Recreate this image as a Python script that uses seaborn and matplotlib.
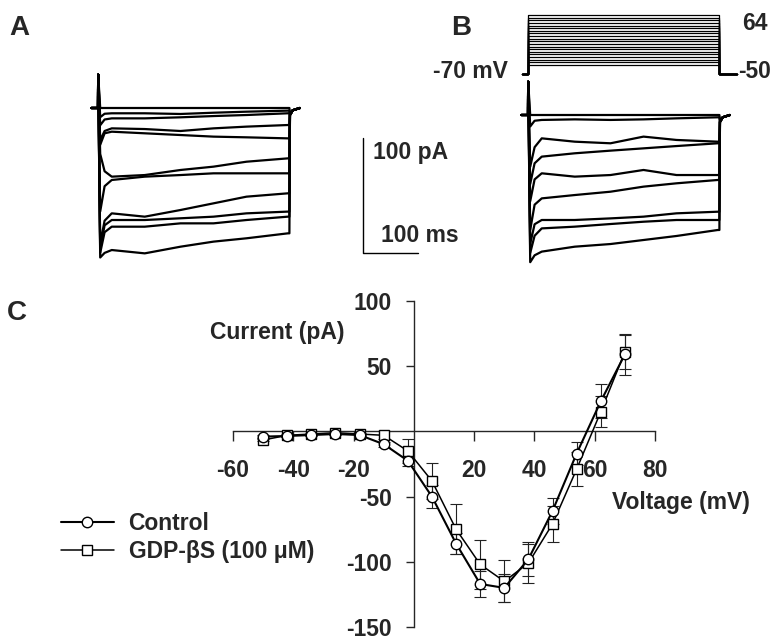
import matplotlib

matplotlib.use("Agg")
import matplotlib.pyplot as plt
import pandas as pd
import seaborn as sns

W, H = 775, 640

# panel C: I-V relation
VOLTAGE_MV = [-50, -42, -34, -26, -18, -10, -2, 6, 14, 22, 30, 38, 46, 54, 62, 70]
CONTROL_PA = [-4, -3.5, -2.8, -2, -2.8, -9.8, -22.5, -50, -86, -117, -120, -98, -61, -17, 23, 59]
CONTROL_SEM = [1, 1, 1, 1, 1, 2, 4, 9, 8, 10, 11, 13, 10, 9, 13, 16]
GDP_PA = [-6.6, -3, -2, -1, -2, -3, -15, -38, -75, -102, -115, -101, -71, -29, 15, 61]
GDP_SEM = [1, 1, 1, 1, 1, 3, 9, 14, 19, 19, 16, 15, 14, 13, 12, 13]
X_TICKS = [-60, -40, -20, 20, 40, 60, 80]
Y_TICKS = [-150, -100, -50, 50, 100]

# panel B protocol steps (mV)
HOLD_MV = -70
STEP_MV = [-50, -44, -38, -32, -26, -20, -14, -8, -2, 4,
           10, 16, 22, 28, 34, 40, 46, 52, 58, 64]

# current traces (pA), read at these times after pulse onset (ms)
READ_MS = [25, 85, 150, 210, 270, 345]
SPIKE_PA = 29
TAIL_PA = -6

A_LEVELS = [
    [0, 0, 0, 0, 0, 0],
    [-4.6, -4.6, -5.2, -4.1, -3.2, -2.3],
    [-9.0, -9.0, -8.1, -7.0, -6.1, -4.6],
    [-17.7, -18.3, -20.0, -17.7, -16.2, -14.8],
    [-20.6, -22.0, -23.5, -24.9, -25.5, -26.4],
    [-59.7, -58.3, -53.9, -51.0, -46.7, -43.8],
    [-62.6, -59.7, -58.3, -56.8, -56.8, -56.8],
    [-91.6, -94.5, -88.7, -82.9, -77.1, -74.2],
    [-97.4, -97.4, -95.9, -94.5, -91.6, -90.1],
    [-103.2, -103.2, -100.3, -100.3, -97.4, -94.5],
    [-123.5, -126.4, -120.6, -116.2, -113.3, -109.0],
]
A_EARLY = [0, -8, -15, -28, -32, -40, -90, -118, -122, -126, -130]
A_SETTLE = [0, -5, -10, -20, -22, -55, -68, -98, -102, -108, -126]

B_LEVELS = [
    [0, 0, 0, 0, 0, 0],
    [-4.3, -3.8, -4.3, -3.8, -2.9, -2.0],
    [-20.3, -23.2, -24.6, -18.8, -21.7, -23.2],
    [-36.2, -33.3, -31.0, -29.0, -27.0, -24.6],
    [-50.7, -53.6, -52.2, -47.8, -52.2, -52.2],
    [-72.5, -69.6, -66.7, -62.3, -59.4, -56.5],
    [-91.3, -91.3, -89.9, -88.4, -85.5, -84.1],
    [-98.6, -97.1, -94.8, -92.8, -91.3, -91.3],
    [-118.8, -114.5, -112.2, -108.7, -105.2, -100.0],
]
B_EARLY = [0, -10, -45, -60, -75, -100, -112, -120, -128]
B_SETTLE = [0, -5, -28, -42, -56, -78, -95, -105, -122]

sns.set_style("ticks")
plt.rcParams["font.family"] = ["Liberation Sans", "DejaVu Sans"]
plt.rcParams["font.weight"] = "bold"
plt.rcParams["axes.unicode_minus"] = False
FS = 16.5


def fx(px):
    return px / W


def fy(py):
    return 1 - py / H


def px_axes(fig, x0, y0, x1, y1):
    return fig.add_axes([x0 / W, 1 - y1 / H, (x1 - x0) / W, (y1 - y0) / H])


def trace_table(levels, early, settle):
    rows = []
    for k, (lv, e4, e12) in enumerate(zip(levels, early, settle)):
        t = [-12, 0, 0.3, 4, 12] + READ_MS + [348, 349, 354, 367]
        i = [0, 0, SPIKE_PA, e4, e12] + lv + [lv[-1], TAIL_PA, -2, 0]
        rows += [{"trace": k, "t": a, "pA": b} for a, b in zip(t, i)]
    return pd.DataFrame(rows)


def protocol_table():
    rows = []
    for k, v in enumerate(STEP_MV):
        t = [-11, 0, 0, 347, 347, 380]
        mv = [HOLD_MV, HOLD_MV, v, v, HOLD_MV, HOLD_MV]
        rows += [{"step": k, "t": a, "mV": b} for a, b in zip(t, mv)]
    return pd.DataFrame(rows)


fig = plt.figure(figsize=(W / 100, H / 100), dpi=100)

# ---- panel A traces (0.55 px/ms, 1.15 px/pA)
ax_a = px_axes(fig, 80, 55, 470, 265)
sns.lineplot(data=trace_table(A_LEVELS, A_EARLY, A_SETTLE), x="t", y="pA",
             units="trace", estimator=None, sort=False, color="black",
             lw=1.6, ax=ax_a)
ax_a.set_xlim((80 - 98) / 0.55, (470 - 98) / 0.55)
ax_a.set_ylim((108 - 265) / 1.15, (108 - 55) / 1.15)
# scale bars: 100 ms x 100 pA
bar_t, bar_i = (363 - 98) / 0.55, (108 - 253) / 1.15
ax_a.plot([bar_t, bar_t, bar_t + 100], [bar_i + 100, bar_i, bar_i],
          color="black", lw=1.0)
ax_a.axis("off")

# ---- panel B traces
ax_b = px_axes(fig, 480, 55, 775, 265)
sns.lineplot(data=trace_table(B_LEVELS, B_EARLY, B_SETTLE), x="t", y="pA",
             units="trace", estimator=None, sort=False, color="black",
             lw=1.6, ax=ax_b)
ax_b.set_xlim((480 - 528) / 0.55, (775 - 528) / 0.55)
ax_b.set_ylim((115 - 265) / 1.15, (115 - 55) / 1.15)
ax_b.axis("off")

# ---- panel B voltage protocol
ax_p = px_axes(fig, 480, 0, 775, 90)
sns.lineplot(data=protocol_table(), x="t", y="mV", units="step",
             estimator=None, sort=False, color="black", lw=0.9, ax=ax_p)
ax_p.set_xlim((480 - 528) / 0.55, (775 - 528) / 0.55)
ax_p.set_ylim(-50 - 25 / 0.4386, 64 + 15 / 0.4386)
ax_p.axis("off")
for ax in (ax_a, ax_b, ax_p):
    ax.patch.set_visible(False)

# ---- panel C: I-V curve
ax_c = px_axes(fig, 233, 301, 655, 627)
ax_c.patch.set_visible(False)
ax_c.errorbar(VOLTAGE_MV, CONTROL_PA, yerr=CONTROL_SEM, fmt="none",
              ecolor="#222222", elinewidth=0.8, capsize=4, capthick=0.8,
              zorder=2, clip_on=False)
ax_c.errorbar(VOLTAGE_MV, GDP_PA, yerr=GDP_SEM, fmt="none",
              ecolor="#222222", elinewidth=0.8, capsize=4, capthick=0.8,
              zorder=2, clip_on=False)
sns.lineplot(x=VOLTAGE_MV, y=CONTROL_PA, ax=ax_c, color="black", lw=1.5,
             marker="o", ms=7.5, mfc="white", mec="black", mew=1.0,
             zorder=4, clip_on=False)
sns.lineplot(x=VOLTAGE_MV, y=GDP_PA, ax=ax_c, color="black", lw=1.1,
             marker="s", ms=6.8, mfc="white", mec="black", mew=1.0,
             zorder=3, clip_on=False)
ax_c.set_xlim(-60, 80)
ax_c.set_ylim(-150, 100)
for side in ("top", "right"):
    ax_c.spines[side].set_visible(False)
ax_c.spines["left"].set_position(("data", 0))
ax_c.spines["bottom"].set_position(("data", 0))
for side in ("left", "bottom"):
    ax_c.spines[side].set_linewidth(1.0)
ax_c.set_xticks(X_TICKS)
ax_c.set_yticks(Y_TICKS)
ax_c.tick_params(axis="x", direction="out", length=7, width=1.0,
                 labelsize=FS, pad=13)
ax_c.tick_params(axis="y", direction="out", length=6, width=1.0,
                 labelsize=FS, pad=10)
ax_c.set_xlabel("")
ax_c.set_ylabel("")

lines = ax_c.get_lines()
handles = [ln for ln in lines if ln.get_marker() in ("o", "s")]
ax_c.legend(handles, ["Control", "GDP-βS (100 μM)"], loc="upper left",
            bbox_to_anchor=(fx(61), fy(512)), bbox_transform=fig.transFigure,
            frameon=False, borderpad=0, borderaxespad=0, handlelength=2.3,
            handletextpad=0.65, labelspacing=0.2, numpoints=1,
            prop={"size": FS, "weight": "bold"})

# ---- labels
fig.text(fx(210), fy(332), "Current (pA)", fontsize=FS, va="center", ha="left")
fig.text(fx(612), fy(502), "Voltage (mV)", fontsize=FS, va="center", ha="left")
fig.text(fx(373), fy(152), "100 pA", fontsize=FS, va="center", ha="left")
fig.text(fx(381), fy(235), "100 ms", fontsize=FS, va="center", ha="left")
fig.text(fx(508), fy(72), "-70 mV", fontsize=FS, va="center", ha="right")
fig.text(fx(742), fy(23), "64", fontsize=FS, va="center", ha="left")
fig.text(fx(738), fy(71), "-50", fontsize=FS, va="center", ha="left")
for letter, x, y in (("A", 9, 28), ("B", 451, 28), ("C", 7, 313)):
    fig.text(fx(x), fy(y), letter, fontsize=20, va="center", ha="left")

fig.savefig("out.png", dpi=100, facecolor="white")
